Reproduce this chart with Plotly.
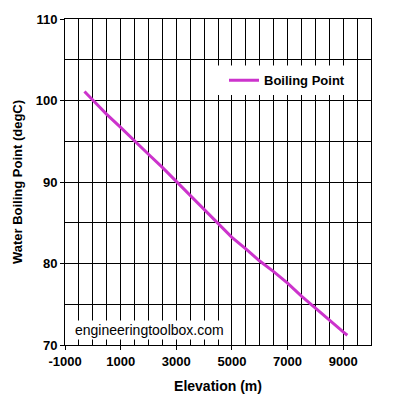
import plotly.graph_objects as go

elevation_m = [-300, 0, 500, 1000, 1500, 2000, 2500, 3000, 3500, 4000, 4500,
               5000, 5500, 6000, 6500, 7000, 7500, 8000, 8500, 9000, 9150]
boiling_c = [101.1, 100.0, 98.3, 96.7, 95.0, 93.4, 91.8, 90.1, 88.4, 86.6, 84.9,
             83.2, 81.8, 80.3, 79.0, 77.6, 76.0, 74.5, 73.1, 71.6, 71.2]
x_tick_vals = [-1000, 1000, 3000, 5000, 7000, 9000]
x_tick_labels = ["-1000", "1000", "3000", "5000", "7000", "9000"]
y_tick_vals = [70, 80, 90, 100, 110]
y_tick_labels = ["70", "80", "90", "100", "110"]
series_name = "Boiling Point"
x_title = "Elevation (m)"
y_title = "Water Boiling Point (degC)"
watermark = "engineeringtoolbox.com"

W, H = 393, 404
L, R, T, B = 65, 22, 15, 59
pw, ph = W - L - R, H - T - B

def px_x(p):
    return (p - L) / pw

def px_y(p):
    return (H - B - p) / ph

font_b = dict(family="Arial, Liberation Sans", size=13, color="black", weight="bold")

fig = go.Figure()
fig.add_trace(go.Scatter(
    x=elevation_m, y=boiling_c, mode="lines", name=series_name,
    line=dict(color="#CC33CC", width=3),
))

axis_common = dict(
    showgrid=True, gridcolor="black", gridwidth=1,
    showline=True, linecolor="black", linewidth=1, mirror=True,
    ticks="outside", ticklen=4, tickcolor="black", tickwidth=1,
    tickfont=font_b, zeroline=False, tickmode="array",
)

fig.update_xaxes(
    range=[-1000, 10000], tickvals=x_tick_vals, ticktext=x_tick_labels,
    minor=dict(dtick=500, tick0=-1000, showgrid=True, gridcolor="black", gridwidth=1, ticks=""),
    title=dict(text=x_title, font=dict(family="Arial, Liberation Sans", size=14, color="black", weight="bold"), standoff=13),
    **axis_common,
)
fig.update_yaxes(
    range=[70, 110], tickvals=y_tick_vals, ticktext=y_tick_labels,
    minor=dict(dtick=5, tick0=70, showgrid=True, gridcolor="black", gridwidth=1, ticks=""),
    title=dict(text=y_title, font=dict(family="Arial, Liberation Sans", size=13, color="black", weight="bold"), standoff=10),
    **axis_common,
)

fig.add_shape(type="rect", xref="paper", yref="paper",
              x0=px_x(205), x1=px_x(357), y0=px_y(92), y1=px_y(62),
              fillcolor="white", line=dict(width=0), layer="above")

fig.update_layout(
    width=W, height=H,
    margin=dict(l=L, r=R, t=T, b=B),
    paper_bgcolor="white", plot_bgcolor="white",
    showlegend=True,
    legend=dict(
        x=px_x(224), y=px_y(77), xanchor="left", yanchor="middle",
        bgcolor="rgba(0,0,0,0)", borderwidth=0,
        font=dict(family="Arial, Liberation Sans", size=13, color="black", weight="bold"),
        itemwidth=30,
    ),
    annotations=[dict(
        text=watermark, xref="paper", yref="paper",
        x=px_x(73), y=px_y(330), xanchor="left", yanchor="middle",
        showarrow=False, bgcolor="white", borderpad=1,
        font=dict(family="Arial, Liberation Sans", size=14, color="black"),
    )],
)

fig.write_html("out.html", config={"displayModeBar": False},
               post_script="document.body.style.margin='0';")
